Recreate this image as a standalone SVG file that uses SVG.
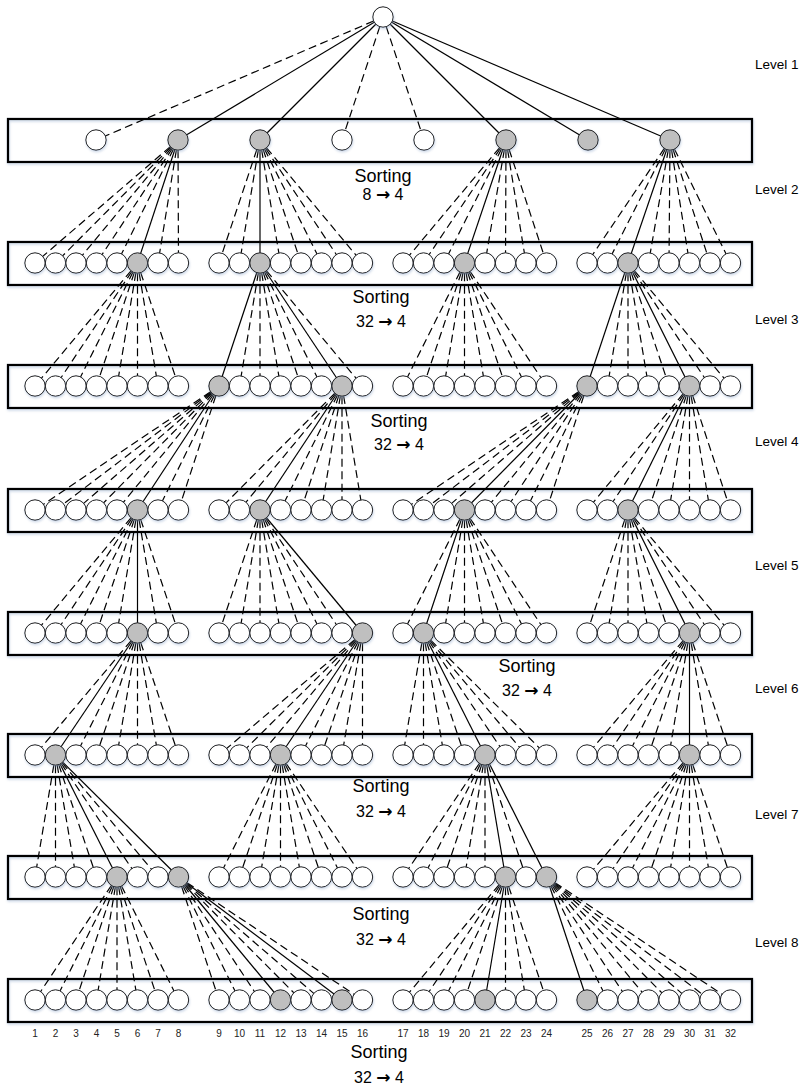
<svg xmlns="http://www.w3.org/2000/svg" width="807" height="1088" viewBox="0 0 807 1088">
<style>
.box{fill:none;stroke:#000;stroke-width:2.3}
.n circle{stroke:#1a1a1a;stroke-width:1}
.w{fill:#fff}
.g{fill:#bfbfbf}
.s{stroke:#000;stroke-width:1.2}
.d{stroke:#000;stroke-width:1.2;stroke-dasharray:8 4.5;stroke-dashoffset:2.3}
.lv{font-family:"Liberation Sans",Arial,sans-serif;font-size:13.5px;fill:#000}
.st{font-family:"Liberation Sans",Arial,sans-serif;font-size:18px;fill:#000;text-anchor:middle}
.ar{font-family:"Liberation Sans",Arial,sans-serif;font-size:16px;fill:#000;text-anchor:middle}
.arr{font-family:"DejaVu Sans",sans-serif;font-weight:bold;font-size:17px}
.num{font-family:"Liberation Sans",Arial,sans-serif;font-size:10px;fill:#222;text-anchor:middle}
.sh{filter:url(#sh)}
</style>
<defs>
<filter id="sh" x="-30%" y="-30%" width="160%" height="180%">
<feDropShadow dx="0.6" dy="1.6" stdDeviation="0.9" flood-color="#8fa8cc" flood-opacity="0.45"/>
</filter>
</defs>
<rect width="807" height="1088" fill="#fff"/>
<g id="boxes">
<rect id="box1" class="box sh" x="8" y="119" width="744" height="43"/>
<rect id="box2" class="box sh" x="8" y="242" width="744" height="43"/>
<rect id="box3" class="box sh" x="8" y="365" width="744" height="43"/>
<rect id="box4" class="box sh" x="8" y="489" width="744" height="43"/>
<rect id="box5" class="box sh" x="8" y="612" width="744" height="43"/>
<rect id="box6" class="box sh" x="8" y="734" width="744" height="43"/>
<rect id="box7" class="box sh" x="8" y="856" width="744" height="43"/>
<rect id="box8" class="box sh" x="8" y="979" width="744" height="43"/>
</g>
<g id="connectors">
<g id="f0">
<line class="d" x1="383" y1="17" x2="96" y2="140"/>
<line class="s" x1="383" y1="17" x2="178" y2="140"/>
<line class="s" x1="383" y1="17" x2="260" y2="140"/>
<line class="d" x1="383" y1="17" x2="342" y2="140"/>
<line class="d" x1="383" y1="17" x2="424" y2="140"/>
<line class="s" x1="383" y1="17" x2="506" y2="140"/>
<line class="s" x1="383" y1="17" x2="588" y2="140"/>
<line class="s" x1="383" y1="17" x2="670" y2="140"/>
</g>
<g id="f1a">
<line class="d" x1="178" y1="140" x2="35" y2="263"/>
<line class="d" x1="178" y1="140" x2="55.5" y2="263"/>
<line class="d" x1="178" y1="140" x2="76" y2="263"/>
<line class="d" x1="178" y1="140" x2="96.5" y2="263"/>
<line class="d" x1="178" y1="140" x2="117" y2="263"/>
<line class="s" x1="178" y1="140" x2="137.5" y2="263"/>
<line class="d" x1="178" y1="140" x2="158" y2="263"/>
<line class="d" x1="178" y1="140" x2="178.5" y2="263"/>
</g>
<g id="f1b">
<line class="d" x1="260" y1="140" x2="219" y2="263"/>
<line class="d" x1="260" y1="140" x2="239.5" y2="263"/>
<line class="s" x1="260" y1="140" x2="260" y2="263"/>
<line class="d" x1="260" y1="140" x2="280.5" y2="263"/>
<line class="d" x1="260" y1="140" x2="301" y2="263"/>
<line class="d" x1="260" y1="140" x2="321.5" y2="263"/>
<line class="d" x1="260" y1="140" x2="342" y2="263"/>
<line class="d" x1="260" y1="140" x2="362.5" y2="263"/>
</g>
<g id="f1c">
<line class="d" x1="506" y1="140" x2="403" y2="263"/>
<line class="d" x1="506" y1="140" x2="423.5" y2="263"/>
<line class="d" x1="506" y1="140" x2="444" y2="263"/>
<line class="s" x1="506" y1="140" x2="464.5" y2="263"/>
<line class="d" x1="506" y1="140" x2="485" y2="263"/>
<line class="d" x1="506" y1="140" x2="505.5" y2="263"/>
<line class="d" x1="506" y1="140" x2="526" y2="263"/>
<line class="d" x1="506" y1="140" x2="546.5" y2="263"/>
</g>
<g id="f1d">
<line class="d" x1="670" y1="140" x2="587" y2="263"/>
<line class="d" x1="670" y1="140" x2="607.5" y2="263"/>
<line class="s" x1="670" y1="140" x2="628" y2="263"/>
<line class="d" x1="670" y1="140" x2="648.5" y2="263"/>
<line class="d" x1="670" y1="140" x2="669" y2="263"/>
<line class="d" x1="670" y1="140" x2="689.5" y2="263"/>
<line class="d" x1="670" y1="140" x2="710" y2="263"/>
<line class="d" x1="670" y1="140" x2="730.5" y2="263"/>
</g>
<g id="f2a">
<line class="d" x1="137.5" y1="263" x2="35" y2="386"/>
<line class="d" x1="137.5" y1="263" x2="55.5" y2="386"/>
<line class="d" x1="137.5" y1="263" x2="76" y2="386"/>
<line class="d" x1="137.5" y1="263" x2="96.5" y2="386"/>
<line class="d" x1="137.5" y1="263" x2="117" y2="386"/>
<line class="d" x1="137.5" y1="263" x2="137.5" y2="386"/>
<line class="d" x1="137.5" y1="263" x2="158" y2="386"/>
<line class="d" x1="137.5" y1="263" x2="178.5" y2="386"/>
</g>
<g id="f2b">
<line class="s" x1="260" y1="263" x2="219" y2="386"/>
<line class="d" x1="260" y1="263" x2="239.5" y2="386"/>
<line class="d" x1="260" y1="263" x2="260" y2="386"/>
<line class="d" x1="260" y1="263" x2="280.5" y2="386"/>
<line class="d" x1="260" y1="263" x2="301" y2="386"/>
<line class="d" x1="260" y1="263" x2="321.5" y2="386"/>
<line class="s" x1="260" y1="263" x2="342" y2="386"/>
<line class="d" x1="260" y1="263" x2="362.5" y2="386"/>
</g>
<g id="f2c">
<line class="d" x1="464.5" y1="263" x2="403" y2="386"/>
<line class="d" x1="464.5" y1="263" x2="423.5" y2="386"/>
<line class="d" x1="464.5" y1="263" x2="444" y2="386"/>
<line class="d" x1="464.5" y1="263" x2="464.5" y2="386"/>
<line class="d" x1="464.5" y1="263" x2="485" y2="386"/>
<line class="d" x1="464.5" y1="263" x2="505.5" y2="386"/>
<line class="d" x1="464.5" y1="263" x2="526" y2="386"/>
<line class="d" x1="464.5" y1="263" x2="546.5" y2="386"/>
</g>
<g id="f2d">
<line class="s" x1="628" y1="263" x2="587" y2="386"/>
<line class="d" x1="628" y1="263" x2="607.5" y2="386"/>
<line class="d" x1="628" y1="263" x2="628" y2="386"/>
<line class="d" x1="628" y1="263" x2="648.5" y2="386"/>
<line class="d" x1="628" y1="263" x2="669" y2="386"/>
<line class="s" x1="628" y1="263" x2="689.5" y2="386"/>
<line class="d" x1="628" y1="263" x2="710" y2="386"/>
<line class="d" x1="628" y1="263" x2="730.5" y2="386"/>
</g>
<g id="f3a">
<line class="d" x1="219" y1="386" x2="35" y2="510"/>
<line class="d" x1="219" y1="386" x2="55.5" y2="510"/>
<line class="d" x1="219" y1="386" x2="76" y2="510"/>
<line class="d" x1="219" y1="386" x2="96.5" y2="510"/>
<line class="d" x1="219" y1="386" x2="117" y2="510"/>
<line class="s" x1="219" y1="386" x2="137.5" y2="510"/>
<line class="d" x1="219" y1="386" x2="158" y2="510"/>
<line class="d" x1="219" y1="386" x2="178.5" y2="510"/>
</g>
<g id="f3b">
<line class="d" x1="342" y1="386" x2="219" y2="510"/>
<line class="d" x1="342" y1="386" x2="239.5" y2="510"/>
<line class="s" x1="342" y1="386" x2="260" y2="510"/>
<line class="d" x1="342" y1="386" x2="280.5" y2="510"/>
<line class="d" x1="342" y1="386" x2="301" y2="510"/>
<line class="d" x1="342" y1="386" x2="321.5" y2="510"/>
<line class="d" x1="342" y1="386" x2="342" y2="510"/>
<line class="d" x1="342" y1="386" x2="362.5" y2="510"/>
</g>
<g id="f3c">
<line class="d" x1="587" y1="386" x2="403" y2="510"/>
<line class="d" x1="587" y1="386" x2="423.5" y2="510"/>
<line class="d" x1="587" y1="386" x2="444" y2="510"/>
<line class="s" x1="587" y1="386" x2="464.5" y2="510"/>
<line class="d" x1="587" y1="386" x2="485" y2="510"/>
<line class="d" x1="587" y1="386" x2="505.5" y2="510"/>
<line class="d" x1="587" y1="386" x2="526" y2="510"/>
<line class="d" x1="587" y1="386" x2="546.5" y2="510"/>
</g>
<g id="f3d">
<line class="d" x1="689.5" y1="386" x2="587" y2="510"/>
<line class="d" x1="689.5" y1="386" x2="607.5" y2="510"/>
<line class="s" x1="689.5" y1="386" x2="628" y2="510"/>
<line class="d" x1="689.5" y1="386" x2="648.5" y2="510"/>
<line class="d" x1="689.5" y1="386" x2="669" y2="510"/>
<line class="d" x1="689.5" y1="386" x2="689.5" y2="510"/>
<line class="d" x1="689.5" y1="386" x2="710" y2="510"/>
<line class="d" x1="689.5" y1="386" x2="730.5" y2="510"/>
</g>
<g id="f4a">
<line class="d" x1="137.5" y1="510" x2="35" y2="633"/>
<line class="d" x1="137.5" y1="510" x2="55.5" y2="633"/>
<line class="d" x1="137.5" y1="510" x2="76" y2="633"/>
<line class="d" x1="137.5" y1="510" x2="96.5" y2="633"/>
<line class="d" x1="137.5" y1="510" x2="117" y2="633"/>
<line class="s" x1="137.5" y1="510" x2="137.5" y2="633"/>
<line class="d" x1="137.5" y1="510" x2="158" y2="633"/>
<line class="d" x1="137.5" y1="510" x2="178.5" y2="633"/>
</g>
<g id="f4b">
<line class="d" x1="260" y1="510" x2="219" y2="633"/>
<line class="d" x1="260" y1="510" x2="239.5" y2="633"/>
<line class="d" x1="260" y1="510" x2="260" y2="633"/>
<line class="d" x1="260" y1="510" x2="280.5" y2="633"/>
<line class="d" x1="260" y1="510" x2="301" y2="633"/>
<line class="d" x1="260" y1="510" x2="321.5" y2="633"/>
<line class="d" x1="260" y1="510" x2="342" y2="633"/>
<line class="s" x1="260" y1="510" x2="362.5" y2="633"/>
</g>
<g id="f4c">
<line class="d" x1="464.5" y1="510" x2="403" y2="633"/>
<line class="s" x1="464.5" y1="510" x2="423.5" y2="633"/>
<line class="d" x1="464.5" y1="510" x2="444" y2="633"/>
<line class="d" x1="464.5" y1="510" x2="464.5" y2="633"/>
<line class="d" x1="464.5" y1="510" x2="485" y2="633"/>
<line class="d" x1="464.5" y1="510" x2="505.5" y2="633"/>
<line class="d" x1="464.5" y1="510" x2="526" y2="633"/>
<line class="d" x1="464.5" y1="510" x2="546.5" y2="633"/>
</g>
<g id="f4d">
<line class="d" x1="628" y1="510" x2="587" y2="633"/>
<line class="d" x1="628" y1="510" x2="607.5" y2="633"/>
<line class="d" x1="628" y1="510" x2="628" y2="633"/>
<line class="d" x1="628" y1="510" x2="648.5" y2="633"/>
<line class="d" x1="628" y1="510" x2="669" y2="633"/>
<line class="s" x1="628" y1="510" x2="689.5" y2="633"/>
<line class="d" x1="628" y1="510" x2="710" y2="633"/>
<line class="d" x1="628" y1="510" x2="730.5" y2="633"/>
</g>
<g id="f5a">
<line class="d" x1="137.5" y1="633" x2="35" y2="755"/>
<line class="s" x1="137.5" y1="633" x2="55.5" y2="755"/>
<line class="d" x1="137.5" y1="633" x2="76" y2="755"/>
<line class="d" x1="137.5" y1="633" x2="96.5" y2="755"/>
<line class="d" x1="137.5" y1="633" x2="117" y2="755"/>
<line class="d" x1="137.5" y1="633" x2="137.5" y2="755"/>
<line class="d" x1="137.5" y1="633" x2="158" y2="755"/>
<line class="d" x1="137.5" y1="633" x2="178.5" y2="755"/>
</g>
<g id="f5b">
<line class="d" x1="362.5" y1="633" x2="219" y2="755"/>
<line class="d" x1="362.5" y1="633" x2="239.5" y2="755"/>
<line class="d" x1="362.5" y1="633" x2="260" y2="755"/>
<line class="s" x1="362.5" y1="633" x2="280.5" y2="755"/>
<line class="d" x1="362.5" y1="633" x2="301" y2="755"/>
<line class="d" x1="362.5" y1="633" x2="321.5" y2="755"/>
<line class="d" x1="362.5" y1="633" x2="342" y2="755"/>
<line class="d" x1="362.5" y1="633" x2="362.5" y2="755"/>
</g>
<g id="f5c">
<line class="d" x1="423.5" y1="633" x2="403" y2="755"/>
<line class="d" x1="423.5" y1="633" x2="423.5" y2="755"/>
<line class="d" x1="423.5" y1="633" x2="444" y2="755"/>
<line class="d" x1="423.5" y1="633" x2="464.5" y2="755"/>
<line class="s" x1="423.5" y1="633" x2="485" y2="755"/>
<line class="d" x1="423.5" y1="633" x2="505.5" y2="755"/>
<line class="d" x1="423.5" y1="633" x2="526" y2="755"/>
<line class="d" x1="423.5" y1="633" x2="546.5" y2="755"/>
</g>
<g id="f5d">
<line class="d" x1="689.5" y1="633" x2="587" y2="755"/>
<line class="d" x1="689.5" y1="633" x2="607.5" y2="755"/>
<line class="d" x1="689.5" y1="633" x2="628" y2="755"/>
<line class="d" x1="689.5" y1="633" x2="648.5" y2="755"/>
<line class="d" x1="689.5" y1="633" x2="669" y2="755"/>
<line class="s" x1="689.5" y1="633" x2="689.5" y2="755"/>
<line class="d" x1="689.5" y1="633" x2="710" y2="755"/>
<line class="d" x1="689.5" y1="633" x2="730.5" y2="755"/>
</g>
<g id="f6a">
<line class="d" x1="55.5" y1="755" x2="35" y2="877"/>
<line class="d" x1="55.5" y1="755" x2="55.5" y2="877"/>
<line class="d" x1="55.5" y1="755" x2="76" y2="877"/>
<line class="d" x1="55.5" y1="755" x2="96.5" y2="877"/>
<line class="s" x1="55.5" y1="755" x2="117" y2="877"/>
<line class="d" x1="55.5" y1="755" x2="137.5" y2="877"/>
<line class="d" x1="55.5" y1="755" x2="158" y2="877"/>
<line class="s" x1="55.5" y1="755" x2="178.5" y2="877"/>
</g>
<g id="f6b">
<line class="d" x1="280.5" y1="755" x2="219" y2="877"/>
<line class="d" x1="280.5" y1="755" x2="239.5" y2="877"/>
<line class="d" x1="280.5" y1="755" x2="260" y2="877"/>
<line class="d" x1="280.5" y1="755" x2="280.5" y2="877"/>
<line class="d" x1="280.5" y1="755" x2="301" y2="877"/>
<line class="d" x1="280.5" y1="755" x2="321.5" y2="877"/>
<line class="d" x1="280.5" y1="755" x2="342" y2="877"/>
<line class="d" x1="280.5" y1="755" x2="362.5" y2="877"/>
</g>
<g id="f6c">
<line class="d" x1="485" y1="755" x2="403" y2="877"/>
<line class="d" x1="485" y1="755" x2="423.5" y2="877"/>
<line class="d" x1="485" y1="755" x2="444" y2="877"/>
<line class="d" x1="485" y1="755" x2="464.5" y2="877"/>
<line class="d" x1="485" y1="755" x2="485" y2="877"/>
<line class="s" x1="485" y1="755" x2="505.5" y2="877"/>
<line class="d" x1="485" y1="755" x2="526" y2="877"/>
<line class="s" x1="485" y1="755" x2="546.5" y2="877"/>
</g>
<g id="f6d">
<line class="d" x1="689.5" y1="755" x2="587" y2="877"/>
<line class="d" x1="689.5" y1="755" x2="607.5" y2="877"/>
<line class="d" x1="689.5" y1="755" x2="628" y2="877"/>
<line class="d" x1="689.5" y1="755" x2="648.5" y2="877"/>
<line class="d" x1="689.5" y1="755" x2="669" y2="877"/>
<line class="d" x1="689.5" y1="755" x2="689.5" y2="877"/>
<line class="d" x1="689.5" y1="755" x2="710" y2="877"/>
<line class="d" x1="689.5" y1="755" x2="730.5" y2="877"/>
</g>
<g id="f7a">
<line class="d" x1="117" y1="877" x2="35" y2="1000"/>
<line class="d" x1="117" y1="877" x2="55.5" y2="1000"/>
<line class="d" x1="117" y1="877" x2="76" y2="1000"/>
<line class="d" x1="117" y1="877" x2="96.5" y2="1000"/>
<line class="d" x1="117" y1="877" x2="117" y2="1000"/>
<line class="d" x1="117" y1="877" x2="137.5" y2="1000"/>
<line class="d" x1="117" y1="877" x2="158" y2="1000"/>
<line class="d" x1="117" y1="877" x2="178.5" y2="1000"/>
</g>
<g id="f7b">
<line class="d" x1="178.5" y1="877" x2="219" y2="1000"/>
<line class="d" x1="178.5" y1="877" x2="239.5" y2="1000"/>
<line class="d" x1="178.5" y1="877" x2="260" y2="1000"/>
<line class="s" x1="178.5" y1="877" x2="280.5" y2="1000"/>
<line class="d" x1="178.5" y1="877" x2="301" y2="1000"/>
<line class="d" x1="178.5" y1="877" x2="321.5" y2="1000"/>
<line class="s" x1="178.5" y1="877" x2="342" y2="1000"/>
<line class="d" x1="178.5" y1="877" x2="362.5" y2="1000"/>
</g>
<g id="f7c">
<line class="d" x1="505.5" y1="877" x2="403" y2="1000"/>
<line class="d" x1="505.5" y1="877" x2="423.5" y2="1000"/>
<line class="d" x1="505.5" y1="877" x2="444" y2="1000"/>
<line class="d" x1="505.5" y1="877" x2="464.5" y2="1000"/>
<line class="s" x1="505.5" y1="877" x2="485" y2="1000"/>
<line class="d" x1="505.5" y1="877" x2="505.5" y2="1000"/>
<line class="d" x1="505.5" y1="877" x2="526" y2="1000"/>
<line class="d" x1="505.5" y1="877" x2="546.5" y2="1000"/>
</g>
<g id="f7d">
<line class="s" x1="546.5" y1="877" x2="587" y2="1000"/>
<line class="d" x1="546.5" y1="877" x2="607.5" y2="1000"/>
<line class="d" x1="546.5" y1="877" x2="628" y2="1000"/>
<line class="d" x1="546.5" y1="877" x2="648.5" y2="1000"/>
<line class="d" x1="546.5" y1="877" x2="669" y2="1000"/>
<line class="d" x1="546.5" y1="877" x2="689.5" y2="1000"/>
<line class="d" x1="546.5" y1="877" x2="710" y2="1000"/>
<line class="d" x1="546.5" y1="877" x2="730.5" y2="1000"/>
</g>
</g>
<g id="root" class="n sh"><circle class="w" cx="383" cy="17" r="10.2"/></g>
<g id="level1" transform="translate(0,140)">
<g id="n1-1" class="n sh"><circle class="w" cx="96" r="10.2"/></g>
<g id="n1-2" class="n sh"><circle class="g" cx="178" r="10.2"/></g>
<g id="n1-3" class="n sh"><circle class="g" cx="260" r="10.2"/></g>
<g id="n1-4" class="n sh"><circle class="w" cx="342" r="10.2"/></g>
<g id="n1-5" class="n sh"><circle class="w" cx="424" r="10.2"/></g>
<g id="n1-6" class="n sh"><circle class="g" cx="506" r="10.2"/></g>
<g id="n1-7" class="n sh"><circle class="g" cx="588" r="10.2"/></g>
<g id="n1-8" class="n sh"><circle class="g" cx="670" r="10.2"/></g>
</g>
<g id="level2" transform="translate(0,263)">
<g id="n2-1" class="n sh"><circle class="w" cx="35" r="10.2"/></g>
<g id="n2-2" class="n sh"><circle class="w" cx="55.5" r="10.2"/></g>
<g id="n2-3" class="n sh"><circle class="w" cx="76" r="10.2"/></g>
<g id="n2-4" class="n sh"><circle class="w" cx="96.5" r="10.2"/></g>
<g id="n2-5" class="n sh"><circle class="w" cx="117" r="10.2"/></g>
<g id="n2-6" class="n sh"><circle class="g" cx="137.5" r="10.2"/></g>
<g id="n2-7" class="n sh"><circle class="w" cx="158" r="10.2"/></g>
<g id="n2-8" class="n sh"><circle class="w" cx="178.5" r="10.2"/></g>
<g id="n2-9" class="n sh"><circle class="w" cx="219" r="10.2"/></g>
<g id="n2-10" class="n sh"><circle class="w" cx="239.5" r="10.2"/></g>
<g id="n2-11" class="n sh"><circle class="g" cx="260" r="10.2"/></g>
<g id="n2-12" class="n sh"><circle class="w" cx="280.5" r="10.2"/></g>
<g id="n2-13" class="n sh"><circle class="w" cx="301" r="10.2"/></g>
<g id="n2-14" class="n sh"><circle class="w" cx="321.5" r="10.2"/></g>
<g id="n2-15" class="n sh"><circle class="w" cx="342" r="10.2"/></g>
<g id="n2-16" class="n sh"><circle class="w" cx="362.5" r="10.2"/></g>
<g id="n2-17" class="n sh"><circle class="w" cx="403" r="10.2"/></g>
<g id="n2-18" class="n sh"><circle class="w" cx="423.5" r="10.2"/></g>
<g id="n2-19" class="n sh"><circle class="w" cx="444" r="10.2"/></g>
<g id="n2-20" class="n sh"><circle class="g" cx="464.5" r="10.2"/></g>
<g id="n2-21" class="n sh"><circle class="w" cx="485" r="10.2"/></g>
<g id="n2-22" class="n sh"><circle class="w" cx="505.5" r="10.2"/></g>
<g id="n2-23" class="n sh"><circle class="w" cx="526" r="10.2"/></g>
<g id="n2-24" class="n sh"><circle class="w" cx="546.5" r="10.2"/></g>
<g id="n2-25" class="n sh"><circle class="w" cx="587" r="10.2"/></g>
<g id="n2-26" class="n sh"><circle class="w" cx="607.5" r="10.2"/></g>
<g id="n2-27" class="n sh"><circle class="g" cx="628" r="10.2"/></g>
<g id="n2-28" class="n sh"><circle class="w" cx="648.5" r="10.2"/></g>
<g id="n2-29" class="n sh"><circle class="w" cx="669" r="10.2"/></g>
<g id="n2-30" class="n sh"><circle class="w" cx="689.5" r="10.2"/></g>
<g id="n2-31" class="n sh"><circle class="w" cx="710" r="10.2"/></g>
<g id="n2-32" class="n sh"><circle class="w" cx="730.5" r="10.2"/></g>
</g>
<g id="level3" transform="translate(0,386)">
<g id="n3-1" class="n sh"><circle class="w" cx="35" r="10.2"/></g>
<g id="n3-2" class="n sh"><circle class="w" cx="55.5" r="10.2"/></g>
<g id="n3-3" class="n sh"><circle class="w" cx="76" r="10.2"/></g>
<g id="n3-4" class="n sh"><circle class="w" cx="96.5" r="10.2"/></g>
<g id="n3-5" class="n sh"><circle class="w" cx="117" r="10.2"/></g>
<g id="n3-6" class="n sh"><circle class="w" cx="137.5" r="10.2"/></g>
<g id="n3-7" class="n sh"><circle class="w" cx="158" r="10.2"/></g>
<g id="n3-8" class="n sh"><circle class="w" cx="178.5" r="10.2"/></g>
<g id="n3-9" class="n sh"><circle class="g" cx="219" r="10.2"/></g>
<g id="n3-10" class="n sh"><circle class="w" cx="239.5" r="10.2"/></g>
<g id="n3-11" class="n sh"><circle class="w" cx="260" r="10.2"/></g>
<g id="n3-12" class="n sh"><circle class="w" cx="280.5" r="10.2"/></g>
<g id="n3-13" class="n sh"><circle class="w" cx="301" r="10.2"/></g>
<g id="n3-14" class="n sh"><circle class="w" cx="321.5" r="10.2"/></g>
<g id="n3-15" class="n sh"><circle class="g" cx="342" r="10.2"/></g>
<g id="n3-16" class="n sh"><circle class="w" cx="362.5" r="10.2"/></g>
<g id="n3-17" class="n sh"><circle class="w" cx="403" r="10.2"/></g>
<g id="n3-18" class="n sh"><circle class="w" cx="423.5" r="10.2"/></g>
<g id="n3-19" class="n sh"><circle class="w" cx="444" r="10.2"/></g>
<g id="n3-20" class="n sh"><circle class="w" cx="464.5" r="10.2"/></g>
<g id="n3-21" class="n sh"><circle class="w" cx="485" r="10.2"/></g>
<g id="n3-22" class="n sh"><circle class="w" cx="505.5" r="10.2"/></g>
<g id="n3-23" class="n sh"><circle class="w" cx="526" r="10.2"/></g>
<g id="n3-24" class="n sh"><circle class="w" cx="546.5" r="10.2"/></g>
<g id="n3-25" class="n sh"><circle class="g" cx="587" r="10.2"/></g>
<g id="n3-26" class="n sh"><circle class="w" cx="607.5" r="10.2"/></g>
<g id="n3-27" class="n sh"><circle class="w" cx="628" r="10.2"/></g>
<g id="n3-28" class="n sh"><circle class="w" cx="648.5" r="10.2"/></g>
<g id="n3-29" class="n sh"><circle class="w" cx="669" r="10.2"/></g>
<g id="n3-30" class="n sh"><circle class="g" cx="689.5" r="10.2"/></g>
<g id="n3-31" class="n sh"><circle class="w" cx="710" r="10.2"/></g>
<g id="n3-32" class="n sh"><circle class="w" cx="730.5" r="10.2"/></g>
</g>
<g id="level4" transform="translate(0,510)">
<g id="n4-1" class="n sh"><circle class="w" cx="35" r="10.2"/></g>
<g id="n4-2" class="n sh"><circle class="w" cx="55.5" r="10.2"/></g>
<g id="n4-3" class="n sh"><circle class="w" cx="76" r="10.2"/></g>
<g id="n4-4" class="n sh"><circle class="w" cx="96.5" r="10.2"/></g>
<g id="n4-5" class="n sh"><circle class="w" cx="117" r="10.2"/></g>
<g id="n4-6" class="n sh"><circle class="g" cx="137.5" r="10.2"/></g>
<g id="n4-7" class="n sh"><circle class="w" cx="158" r="10.2"/></g>
<g id="n4-8" class="n sh"><circle class="w" cx="178.5" r="10.2"/></g>
<g id="n4-9" class="n sh"><circle class="w" cx="219" r="10.2"/></g>
<g id="n4-10" class="n sh"><circle class="w" cx="239.5" r="10.2"/></g>
<g id="n4-11" class="n sh"><circle class="g" cx="260" r="10.2"/></g>
<g id="n4-12" class="n sh"><circle class="w" cx="280.5" r="10.2"/></g>
<g id="n4-13" class="n sh"><circle class="w" cx="301" r="10.2"/></g>
<g id="n4-14" class="n sh"><circle class="w" cx="321.5" r="10.2"/></g>
<g id="n4-15" class="n sh"><circle class="w" cx="342" r="10.2"/></g>
<g id="n4-16" class="n sh"><circle class="w" cx="362.5" r="10.2"/></g>
<g id="n4-17" class="n sh"><circle class="w" cx="403" r="10.2"/></g>
<g id="n4-18" class="n sh"><circle class="w" cx="423.5" r="10.2"/></g>
<g id="n4-19" class="n sh"><circle class="w" cx="444" r="10.2"/></g>
<g id="n4-20" class="n sh"><circle class="g" cx="464.5" r="10.2"/></g>
<g id="n4-21" class="n sh"><circle class="w" cx="485" r="10.2"/></g>
<g id="n4-22" class="n sh"><circle class="w" cx="505.5" r="10.2"/></g>
<g id="n4-23" class="n sh"><circle class="w" cx="526" r="10.2"/></g>
<g id="n4-24" class="n sh"><circle class="w" cx="546.5" r="10.2"/></g>
<g id="n4-25" class="n sh"><circle class="w" cx="587" r="10.2"/></g>
<g id="n4-26" class="n sh"><circle class="w" cx="607.5" r="10.2"/></g>
<g id="n4-27" class="n sh"><circle class="g" cx="628" r="10.2"/></g>
<g id="n4-28" class="n sh"><circle class="w" cx="648.5" r="10.2"/></g>
<g id="n4-29" class="n sh"><circle class="w" cx="669" r="10.2"/></g>
<g id="n4-30" class="n sh"><circle class="w" cx="689.5" r="10.2"/></g>
<g id="n4-31" class="n sh"><circle class="w" cx="710" r="10.2"/></g>
<g id="n4-32" class="n sh"><circle class="w" cx="730.5" r="10.2"/></g>
</g>
<g id="level5" transform="translate(0,633)">
<g id="n5-1" class="n sh"><circle class="w" cx="35" r="10.2"/></g>
<g id="n5-2" class="n sh"><circle class="w" cx="55.5" r="10.2"/></g>
<g id="n5-3" class="n sh"><circle class="w" cx="76" r="10.2"/></g>
<g id="n5-4" class="n sh"><circle class="w" cx="96.5" r="10.2"/></g>
<g id="n5-5" class="n sh"><circle class="w" cx="117" r="10.2"/></g>
<g id="n5-6" class="n sh"><circle class="g" cx="137.5" r="10.2"/></g>
<g id="n5-7" class="n sh"><circle class="w" cx="158" r="10.2"/></g>
<g id="n5-8" class="n sh"><circle class="w" cx="178.5" r="10.2"/></g>
<g id="n5-9" class="n sh"><circle class="w" cx="219" r="10.2"/></g>
<g id="n5-10" class="n sh"><circle class="w" cx="239.5" r="10.2"/></g>
<g id="n5-11" class="n sh"><circle class="w" cx="260" r="10.2"/></g>
<g id="n5-12" class="n sh"><circle class="w" cx="280.5" r="10.2"/></g>
<g id="n5-13" class="n sh"><circle class="w" cx="301" r="10.2"/></g>
<g id="n5-14" class="n sh"><circle class="w" cx="321.5" r="10.2"/></g>
<g id="n5-15" class="n sh"><circle class="w" cx="342" r="10.2"/></g>
<g id="n5-16" class="n sh"><circle class="g" cx="362.5" r="10.2"/></g>
<g id="n5-17" class="n sh"><circle class="w" cx="403" r="10.2"/></g>
<g id="n5-18" class="n sh"><circle class="g" cx="423.5" r="10.2"/></g>
<g id="n5-19" class="n sh"><circle class="w" cx="444" r="10.2"/></g>
<g id="n5-20" class="n sh"><circle class="w" cx="464.5" r="10.2"/></g>
<g id="n5-21" class="n sh"><circle class="w" cx="485" r="10.2"/></g>
<g id="n5-22" class="n sh"><circle class="w" cx="505.5" r="10.2"/></g>
<g id="n5-23" class="n sh"><circle class="w" cx="526" r="10.2"/></g>
<g id="n5-24" class="n sh"><circle class="w" cx="546.5" r="10.2"/></g>
<g id="n5-25" class="n sh"><circle class="w" cx="587" r="10.2"/></g>
<g id="n5-26" class="n sh"><circle class="w" cx="607.5" r="10.2"/></g>
<g id="n5-27" class="n sh"><circle class="w" cx="628" r="10.2"/></g>
<g id="n5-28" class="n sh"><circle class="w" cx="648.5" r="10.2"/></g>
<g id="n5-29" class="n sh"><circle class="w" cx="669" r="10.2"/></g>
<g id="n5-30" class="n sh"><circle class="g" cx="689.5" r="10.2"/></g>
<g id="n5-31" class="n sh"><circle class="w" cx="710" r="10.2"/></g>
<g id="n5-32" class="n sh"><circle class="w" cx="730.5" r="10.2"/></g>
</g>
<g id="level6" transform="translate(0,755)">
<g id="n6-1" class="n sh"><circle class="w" cx="35" r="10.2"/></g>
<g id="n6-2" class="n sh"><circle class="g" cx="55.5" r="10.2"/></g>
<g id="n6-3" class="n sh"><circle class="w" cx="76" r="10.2"/></g>
<g id="n6-4" class="n sh"><circle class="w" cx="96.5" r="10.2"/></g>
<g id="n6-5" class="n sh"><circle class="w" cx="117" r="10.2"/></g>
<g id="n6-6" class="n sh"><circle class="w" cx="137.5" r="10.2"/></g>
<g id="n6-7" class="n sh"><circle class="w" cx="158" r="10.2"/></g>
<g id="n6-8" class="n sh"><circle class="w" cx="178.5" r="10.2"/></g>
<g id="n6-9" class="n sh"><circle class="w" cx="219" r="10.2"/></g>
<g id="n6-10" class="n sh"><circle class="w" cx="239.5" r="10.2"/></g>
<g id="n6-11" class="n sh"><circle class="w" cx="260" r="10.2"/></g>
<g id="n6-12" class="n sh"><circle class="g" cx="280.5" r="10.2"/></g>
<g id="n6-13" class="n sh"><circle class="w" cx="301" r="10.2"/></g>
<g id="n6-14" class="n sh"><circle class="w" cx="321.5" r="10.2"/></g>
<g id="n6-15" class="n sh"><circle class="w" cx="342" r="10.2"/></g>
<g id="n6-16" class="n sh"><circle class="w" cx="362.5" r="10.2"/></g>
<g id="n6-17" class="n sh"><circle class="w" cx="403" r="10.2"/></g>
<g id="n6-18" class="n sh"><circle class="w" cx="423.5" r="10.2"/></g>
<g id="n6-19" class="n sh"><circle class="w" cx="444" r="10.2"/></g>
<g id="n6-20" class="n sh"><circle class="w" cx="464.5" r="10.2"/></g>
<g id="n6-21" class="n sh"><circle class="g" cx="485" r="10.2"/></g>
<g id="n6-22" class="n sh"><circle class="w" cx="505.5" r="10.2"/></g>
<g id="n6-23" class="n sh"><circle class="w" cx="526" r="10.2"/></g>
<g id="n6-24" class="n sh"><circle class="w" cx="546.5" r="10.2"/></g>
<g id="n6-25" class="n sh"><circle class="w" cx="587" r="10.2"/></g>
<g id="n6-26" class="n sh"><circle class="w" cx="607.5" r="10.2"/></g>
<g id="n6-27" class="n sh"><circle class="w" cx="628" r="10.2"/></g>
<g id="n6-28" class="n sh"><circle class="w" cx="648.5" r="10.2"/></g>
<g id="n6-29" class="n sh"><circle class="w" cx="669" r="10.2"/></g>
<g id="n6-30" class="n sh"><circle class="g" cx="689.5" r="10.2"/></g>
<g id="n6-31" class="n sh"><circle class="w" cx="710" r="10.2"/></g>
<g id="n6-32" class="n sh"><circle class="w" cx="730.5" r="10.2"/></g>
</g>
<g id="level7" transform="translate(0,877)">
<g id="n7-1" class="n sh"><circle class="w" cx="35" r="10.2"/></g>
<g id="n7-2" class="n sh"><circle class="w" cx="55.5" r="10.2"/></g>
<g id="n7-3" class="n sh"><circle class="w" cx="76" r="10.2"/></g>
<g id="n7-4" class="n sh"><circle class="w" cx="96.5" r="10.2"/></g>
<g id="n7-5" class="n sh"><circle class="g" cx="117" r="10.2"/></g>
<g id="n7-6" class="n sh"><circle class="w" cx="137.5" r="10.2"/></g>
<g id="n7-7" class="n sh"><circle class="w" cx="158" r="10.2"/></g>
<g id="n7-8" class="n sh"><circle class="g" cx="178.5" r="10.2"/></g>
<g id="n7-9" class="n sh"><circle class="w" cx="219" r="10.2"/></g>
<g id="n7-10" class="n sh"><circle class="w" cx="239.5" r="10.2"/></g>
<g id="n7-11" class="n sh"><circle class="w" cx="260" r="10.2"/></g>
<g id="n7-12" class="n sh"><circle class="w" cx="280.5" r="10.2"/></g>
<g id="n7-13" class="n sh"><circle class="w" cx="301" r="10.2"/></g>
<g id="n7-14" class="n sh"><circle class="w" cx="321.5" r="10.2"/></g>
<g id="n7-15" class="n sh"><circle class="w" cx="342" r="10.2"/></g>
<g id="n7-16" class="n sh"><circle class="w" cx="362.5" r="10.2"/></g>
<g id="n7-17" class="n sh"><circle class="w" cx="403" r="10.2"/></g>
<g id="n7-18" class="n sh"><circle class="w" cx="423.5" r="10.2"/></g>
<g id="n7-19" class="n sh"><circle class="w" cx="444" r="10.2"/></g>
<g id="n7-20" class="n sh"><circle class="w" cx="464.5" r="10.2"/></g>
<g id="n7-21" class="n sh"><circle class="w" cx="485" r="10.2"/></g>
<g id="n7-22" class="n sh"><circle class="g" cx="505.5" r="10.2"/></g>
<g id="n7-23" class="n sh"><circle class="w" cx="526" r="10.2"/></g>
<g id="n7-24" class="n sh"><circle class="g" cx="546.5" r="10.2"/></g>
<g id="n7-25" class="n sh"><circle class="w" cx="587" r="10.2"/></g>
<g id="n7-26" class="n sh"><circle class="w" cx="607.5" r="10.2"/></g>
<g id="n7-27" class="n sh"><circle class="w" cx="628" r="10.2"/></g>
<g id="n7-28" class="n sh"><circle class="w" cx="648.5" r="10.2"/></g>
<g id="n7-29" class="n sh"><circle class="w" cx="669" r="10.2"/></g>
<g id="n7-30" class="n sh"><circle class="w" cx="689.5" r="10.2"/></g>
<g id="n7-31" class="n sh"><circle class="w" cx="710" r="10.2"/></g>
<g id="n7-32" class="n sh"><circle class="w" cx="730.5" r="10.2"/></g>
</g>
<g id="level8" transform="translate(0,1000)">
<g id="n8-1" class="n sh"><circle class="w" cx="35" r="10.2"/></g>
<g id="n8-2" class="n sh"><circle class="w" cx="55.5" r="10.2"/></g>
<g id="n8-3" class="n sh"><circle class="w" cx="76" r="10.2"/></g>
<g id="n8-4" class="n sh"><circle class="w" cx="96.5" r="10.2"/></g>
<g id="n8-5" class="n sh"><circle class="w" cx="117" r="10.2"/></g>
<g id="n8-6" class="n sh"><circle class="w" cx="137.5" r="10.2"/></g>
<g id="n8-7" class="n sh"><circle class="w" cx="158" r="10.2"/></g>
<g id="n8-8" class="n sh"><circle class="w" cx="178.5" r="10.2"/></g>
<g id="n8-9" class="n sh"><circle class="w" cx="219" r="10.2"/></g>
<g id="n8-10" class="n sh"><circle class="w" cx="239.5" r="10.2"/></g>
<g id="n8-11" class="n sh"><circle class="w" cx="260" r="10.2"/></g>
<g id="n8-12" class="n sh"><circle class="g" cx="280.5" r="10.2"/></g>
<g id="n8-13" class="n sh"><circle class="w" cx="301" r="10.2"/></g>
<g id="n8-14" class="n sh"><circle class="w" cx="321.5" r="10.2"/></g>
<g id="n8-15" class="n sh"><circle class="g" cx="342" r="10.2"/></g>
<g id="n8-16" class="n sh"><circle class="w" cx="362.5" r="10.2"/></g>
<g id="n8-17" class="n sh"><circle class="w" cx="403" r="10.2"/></g>
<g id="n8-18" class="n sh"><circle class="w" cx="423.5" r="10.2"/></g>
<g id="n8-19" class="n sh"><circle class="w" cx="444" r="10.2"/></g>
<g id="n8-20" class="n sh"><circle class="w" cx="464.5" r="10.2"/></g>
<g id="n8-21" class="n sh"><circle class="g" cx="485" r="10.2"/></g>
<g id="n8-22" class="n sh"><circle class="w" cx="505.5" r="10.2"/></g>
<g id="n8-23" class="n sh"><circle class="w" cx="526" r="10.2"/></g>
<g id="n8-24" class="n sh"><circle class="w" cx="546.5" r="10.2"/></g>
<g id="n8-25" class="n sh"><circle class="g" cx="587" r="10.2"/></g>
<g id="n8-26" class="n sh"><circle class="w" cx="607.5" r="10.2"/></g>
<g id="n8-27" class="n sh"><circle class="w" cx="628" r="10.2"/></g>
<g id="n8-28" class="n sh"><circle class="w" cx="648.5" r="10.2"/></g>
<g id="n8-29" class="n sh"><circle class="w" cx="669" r="10.2"/></g>
<g id="n8-30" class="n sh"><circle class="w" cx="689.5" r="10.2"/></g>
<g id="n8-31" class="n sh"><circle class="w" cx="710" r="10.2"/></g>
<g id="n8-32" class="n sh"><circle class="w" cx="730.5" r="10.2"/></g>
</g>
<g id="level-labels">
<text class="lv" x="755" y="69">Level 1</text>
<text class="lv" x="755" y="194">Level 2</text>
<text class="lv" x="755" y="324">Level 3</text>
<text class="lv" x="755" y="446">Level 4</text>
<text class="lv" x="755" y="570">Level 5</text>
<text class="lv" x="755" y="693">Level 6</text>
<text class="lv" x="755" y="819">Level 7</text>
<text class="lv" x="755" y="947">Level 8</text>
</g>
<g id="sorting-labels">
<text class="st" x="383" y="182">Sorting</text>
<text class="ar" x="383" y="200">8 <tspan class="arr">→</tspan> 4</text>
<text class="st" x="381" y="303">Sorting</text>
<text class="ar" x="381" y="327">32 <tspan class="arr">→</tspan> 4</text>
<text class="st" x="399" y="427">Sorting</text>
<text class="ar" x="399" y="450">32 <tspan class="arr">→</tspan> 4</text>
<text class="st" x="527" y="672">Sorting</text>
<text class="ar" x="527" y="696">32 <tspan class="arr">→</tspan> 4</text>
<text class="st" x="381" y="792">Sorting</text>
<text class="ar" x="381" y="817">32 <tspan class="arr">→</tspan> 4</text>
<text class="st" x="381" y="920">Sorting</text>
<text class="ar" x="381" y="945">32 <tspan class="arr">→</tspan> 4</text>
<text class="st" x="379" y="1058">Sorting</text>
<text class="ar" x="379" y="1083">32 <tspan class="arr">→</tspan> 4</text>
</g>
<g id="numbers">
<text class="num" x="35" y="1037">1</text>
<text class="num" x="55.5" y="1037">2</text>
<text class="num" x="76" y="1037">3</text>
<text class="num" x="96.5" y="1037">4</text>
<text class="num" x="117" y="1037">5</text>
<text class="num" x="137.5" y="1037">6</text>
<text class="num" x="158" y="1037">7</text>
<text class="num" x="178.5" y="1037">8</text>
<text class="num" x="219" y="1037">9</text>
<text class="num" x="239.5" y="1037">10</text>
<text class="num" x="260" y="1037">11</text>
<text class="num" x="280.5" y="1037">12</text>
<text class="num" x="301" y="1037">13</text>
<text class="num" x="321.5" y="1037">14</text>
<text class="num" x="342" y="1037">15</text>
<text class="num" x="362.5" y="1037">16</text>
<text class="num" x="403" y="1037">17</text>
<text class="num" x="423.5" y="1037">18</text>
<text class="num" x="444" y="1037">19</text>
<text class="num" x="464.5" y="1037">20</text>
<text class="num" x="485" y="1037">21</text>
<text class="num" x="505.5" y="1037">22</text>
<text class="num" x="526" y="1037">23</text>
<text class="num" x="546.5" y="1037">24</text>
<text class="num" x="587" y="1037">25</text>
<text class="num" x="607.5" y="1037">26</text>
<text class="num" x="628" y="1037">27</text>
<text class="num" x="648.5" y="1037">28</text>
<text class="num" x="669" y="1037">29</text>
<text class="num" x="689.5" y="1037">30</text>
<text class="num" x="710" y="1037">31</text>
<text class="num" x="730.5" y="1037">32</text>
</g>
</svg>
